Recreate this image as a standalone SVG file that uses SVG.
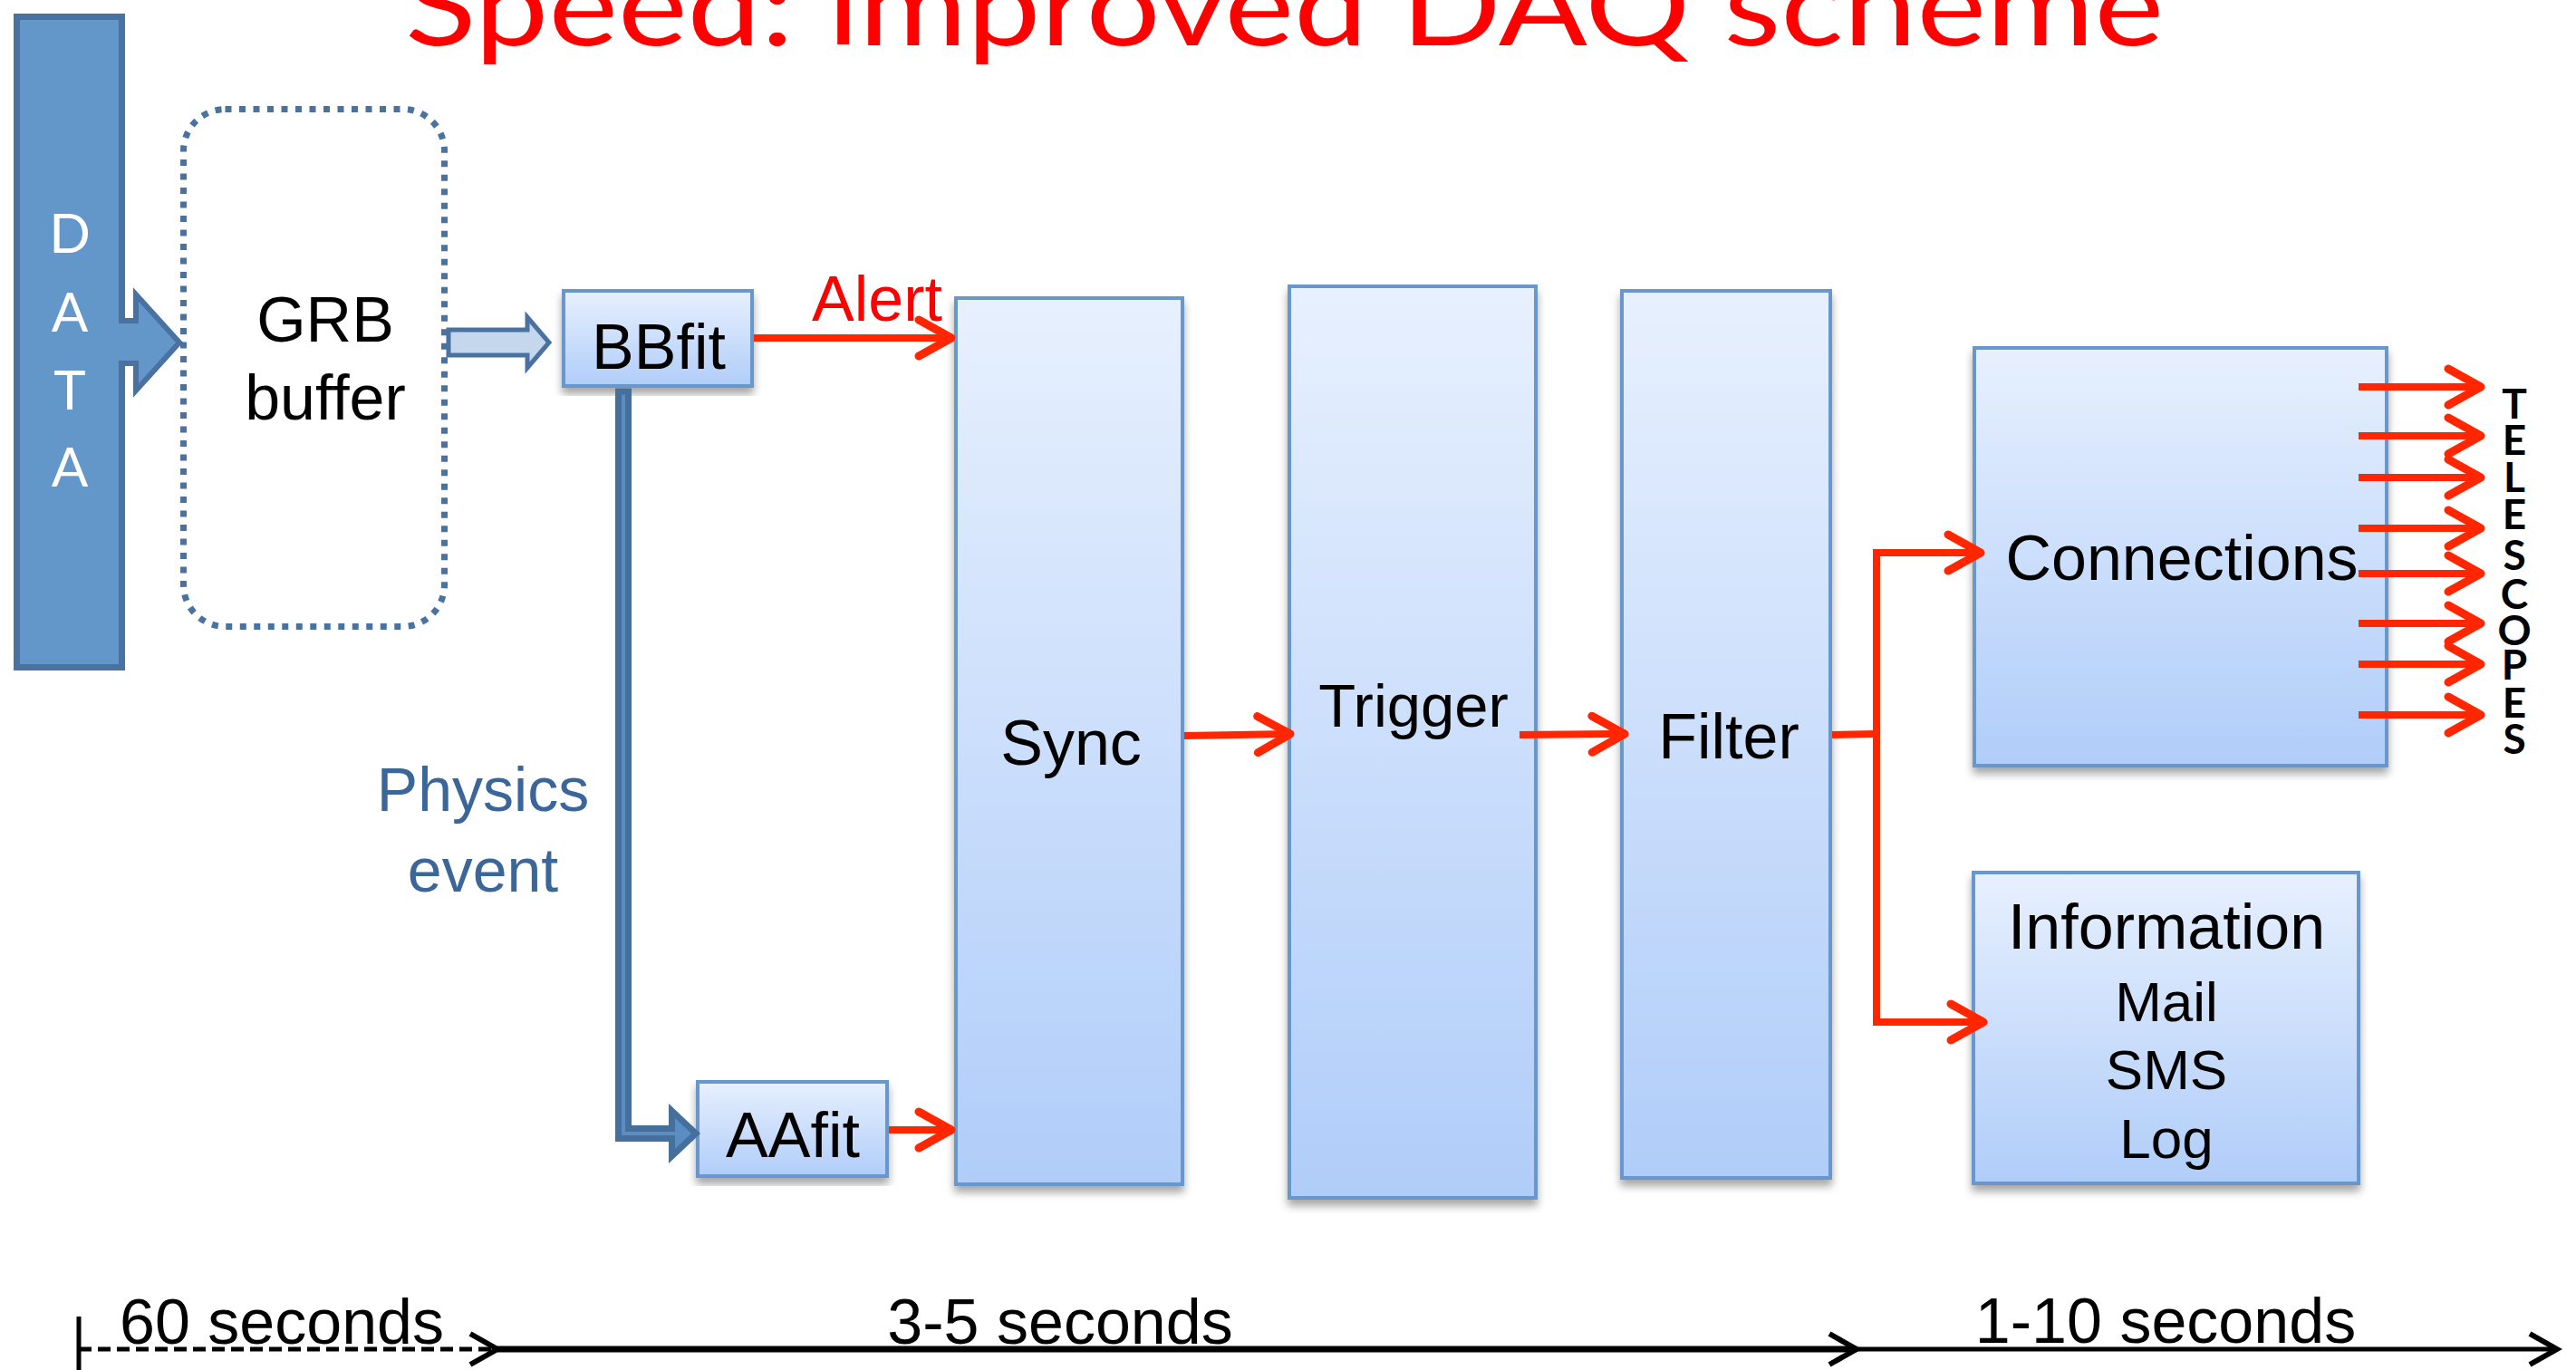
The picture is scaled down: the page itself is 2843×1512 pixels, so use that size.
<svg xmlns="http://www.w3.org/2000/svg" width="2843" height="1512" viewBox="0 0 2843 1512">
<defs>
<linearGradient id="boxg" x1="0" y1="0" x2="0" y2="1">
<stop offset="0" stop-color="#e7f0fe"/>
<stop offset="1" stop-color="#b0cdf9"/>
</linearGradient>
<filter id="sh" x="-10%" y="-10%" width="120%" height="120%">
<feDropShadow dx="0" dy="7" stdDeviation="5" flood-color="#000" flood-opacity="0.35"/>
</filter>
<marker id="rh" viewBox="-42 -26 48 52" refX="0" refY="0" markerWidth="48" markerHeight="52" markerUnits="userSpaceOnUse" orient="auto">
<path d="M-36,-20 L0,0 L-36,20" fill="none" stroke="#ff2600" stroke-width="9" stroke-linecap="round" stroke-linejoin="round"/>
</marker>
<marker id="kh" viewBox="-36 -22 42 44" refX="0" refY="0" markerWidth="42" markerHeight="44" markerUnits="userSpaceOnUse" orient="auto">
<path d="M-30,-17 L0,0 L-30,17" fill="none" stroke="#000" stroke-width="6" stroke-linecap="butt" stroke-linejoin="miter"/>
</marker>
</defs>
<style>
.box{fill:url(#boxg);stroke:#6797cd;stroke-width:4;filter:url(#sh)}
.lbl{font-family:"Liberation Sans",Arial,sans-serif;font-size:70px;fill:#000;text-anchor:middle}
.sm{font-size:62px}
.red{fill:none;stroke:#ff2600;stroke-width:8}
.blk{fill:none;stroke:#000}
.tel{font-family:Lato,"Open Sans",sans-serif;font-weight:bold;font-size:46px;fill:#000;text-anchor:middle}
</style>
<rect width="2843" height="1512" fill="#fff"/>

<text id="title" x="447" y="50" font-family="Lato,'Open Sans',sans-serif" font-size="122" fill="#ff0000" textLength="1941" lengthAdjust="spacingAndGlyphs">Speed: improved DAQ scheme</text>

<g id="data">
<rect x="18.5" y="18.5" width="116" height="718" fill="#6396c9" stroke="#4a72a0" stroke-width="7"/>
<g font-family="Lato,'Open Sans',sans-serif" font-size="60" fill="#fff" text-anchor="middle">
<text x="77" y="279">D</text>
<text x="77" y="366">A</text>
<text x="77" y="452">T</text>
<text x="77" y="537">A</text>
</g>
</g>

<g id="grb-buffer">
<rect x="202.5" y="120.5" width="288" height="571" rx="46" fill="none" stroke="#4a72a0" stroke-width="7" stroke-dasharray="7 8.5"/>
<text class="lbl" x="359" y="377">GRB</text>
<text class="lbl" x="359" y="463">buffer</text>
</g>

<g id="bbfit">
<rect class="box" x="622" y="321" width="208" height="105"/>
<text class="lbl" x="727" y="407">BBfit</text>
</g>

<g id="aafit">
<rect class="box" x="770" y="1194" width="209" height="104"/>
<text class="lbl" x="875" y="1277">AAfit</text>
</g>

<g id="sync">
<rect class="box" x="1055" y="329" width="250" height="978"/>
<text class="lbl" x="1182" y="844">Sync</text>
</g>

<g id="trigger">
<rect class="box" x="1423" y="316" width="272" height="1006"/>
<text class="lbl" x="1560" y="802" style="font-size:67px">Trigger</text>
</g>

<g id="filter">
<rect class="box" x="1790" y="321" width="230" height="979"/>
<text class="lbl" x="1908" y="837">Filter</text>
</g>

<g id="connections">
<rect class="box" x="2179" y="384" width="455" height="461"/>
<text class="lbl" x="2408" y="640">Connections</text>
</g>

<g id="information">
<rect class="box" x="2178" y="963" width="425" height="343"/>
<text class="lbl" x="2391" y="1047">Information</text>
<text class="lbl sm" x="2391" y="1127">Mail</text>
<text class="lbl sm" x="2391" y="1202">SMS</text>
<text class="lbl sm" x="2391" y="1278">Log</text>
</g>

<g id="physics-label">
<text x="533" y="895" font-family="'Liberation Sans',Arial,sans-serif" font-size="68" fill="#3b6699" text-anchor="middle">Physics</text>
<text x="533" y="984" font-family="'Liberation Sans',Arial,sans-serif" font-size="68" fill="#3b6699" text-anchor="middle">event</text>
</g>

<g id="telescopes">
<text class="tel"><tspan x="2775" y="462">T</tspan><tspan x="2775" y="502">E</tspan><tspan x="2775" y="543">L</tspan><tspan x="2775" y="584">E</tspan><tspan x="2775" y="629">S</tspan><tspan x="2775" y="672">C</tspan><tspan x="2775" y="712">O</tspan><tspan x="2775" y="750">P</tspan><tspan x="2775" y="792">E</tspan><tspan x="2775" y="832">S</tspan></text>
</g>

<g id="connectors">
<path d="M131,354 H150 V325 L198,378 L150,431 V401 H131" fill="#6396c9" stroke="#4a72a0" stroke-width="6" stroke-linejoin="miter"/>
<path d="M495,364 H582 V350 L606,378 L582,406 V392 H495 Z" fill="#c5d7ec" stroke="#4a72a0" stroke-width="5"/>
<path d="M682.5,432 V1256.5 H741.5 V1276 L768,1251 L741.5,1226 V1245.5 H693.5 V432 Z" fill="#5b8cc4" stroke="#46709c" stroke-width="7"/>

<line class="red" x1="832" y1="373" x2="1050" y2="373" marker-end="url(#rh)"/>
<text x="968" y="354" font-family="'Liberation Sans',Arial,sans-serif" font-size="70" fill="#ff0000" text-anchor="middle">Alert</text>
<line class="red" x1="981" y1="1247" x2="1050" y2="1247" marker-end="url(#rh)"/>
<line class="red" x1="1307" y1="812" x2="1424" y2="810" marker-end="url(#rh)"/>
<line class="red" x1="1677" y1="811" x2="1793" y2="810" marker-end="url(#rh)"/>
<polyline class="red" points="2022,811 2071,810"/>
<polyline class="red" points="2186,610 2071,610 2071,1128 2189,1128" marker-end="url(#rh)"/>
<line class="red" x1="2071" y1="610" x2="2186" y2="610" marker-end="url(#rh)"/>

<line class="red" x1="2603" y1="427" x2="2738" y2="427" marker-end="url(#rh)"/>
<line class="red" x1="2603" y1="481" x2="2738" y2="481" marker-end="url(#rh)"/>
<line class="red" x1="2603" y1="527" x2="2738" y2="527" marker-end="url(#rh)"/>
<line class="red" x1="2603" y1="583" x2="2738" y2="583" marker-end="url(#rh)"/>
<line class="red" x1="2603" y1="633" x2="2738" y2="633" marker-end="url(#rh)"/>
<line class="red" x1="2603" y1="688" x2="2738" y2="688" marker-end="url(#rh)"/>
<line class="red" x1="2603" y1="733" x2="2738" y2="733" marker-end="url(#rh)"/>
<line class="red" x1="2603" y1="789" x2="2738" y2="789" marker-end="url(#rh)"/>

<line class="blk" x1="87" y1="1453" x2="87" y2="1512" stroke-width="5"/>
<line class="blk" x1="87" y1="1489" x2="549" y2="1489" stroke-width="5" stroke-dasharray="14 7" marker-end="url(#kh)"/>
<line class="blk" x1="549" y1="1489" x2="2049" y2="1489" stroke-width="7" marker-end="url(#kh)"/>
<line class="blk" x1="2049" y1="1489" x2="2822" y2="1489" stroke-width="5" marker-end="url(#kh)"/>
</g>

<g id="timeline-labels" font-family="'Liberation Sans',Arial,sans-serif" font-size="70" fill="#000" text-anchor="middle">
<text x="311" y="1483">60 seconds</text>
<text x="1170" y="1483">3-5 seconds</text>
<text x="2390" y="1482">1-10 seconds</text>
</g>
</svg>
